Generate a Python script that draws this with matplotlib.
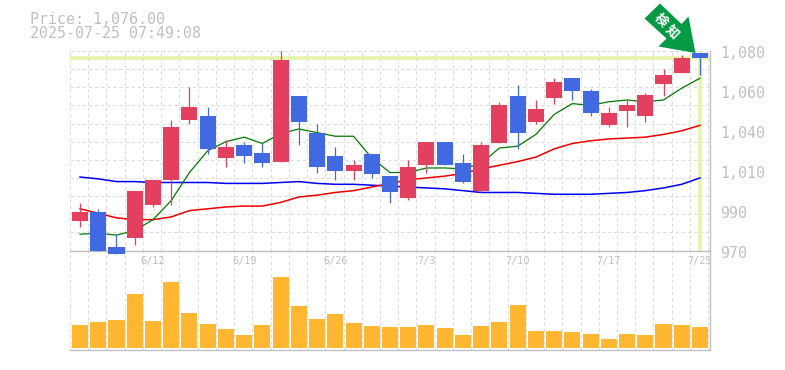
# Velas con medias moviles y volumen

import matplotlib
matplotlib.use("Agg")
import matplotlib.pyplot as plt
from matplotlib.patches import Polygon

Apertura = [986, 991, 972, 977, 995, 1009, 1042, 1044, 1021, 1028, 1024, 1019, 1055, 1035, 1022, 1014, 1023, 1011,
            999, 1017, 1030, 1018, 1003, 1029, 1055, 1041, 1054, 1065, 1058, 1039, 1047, 1044, 1062, 1068, 1079]
Maximo = [996, 993, 979, 1003, 1009, 1042, 1060, 1049, 1031, 1030, 1029, 1080, 1055, 1040, 1027, 1020, 1023, 1011,
          1020, 1030, 1030, 1023, 1030, 1052, 1061, 1053, 1065, 1065, 1059, 1049, 1053, 1057, 1070, 1078, 1079]
Minimo = [983, 970, 968, 973, 994, 995, 1040, 1023, 1016, 1018, 1016, 1019, 1028, 1013, 1009, 1009, 1010, 996,
          998, 1013, 1017, 1007, 1002, 1029, 1026, 1040, 1051, 1053, 1044, 1038, 1038, 1041, 1055, 1068, 1067]
Cierre = [991, 970, 968, 1003, 1009, 1038, 1049, 1026, 1027, 1022, 1018, 1075, 1041, 1016, 1014, 1017, 1012, 1002,
          1016, 1030, 1017, 1008, 1028, 1050, 1035, 1048, 1063, 1058, 1046, 1046, 1050, 1056, 1067, 1076, 1076]

MA_Corta = [979, 979.5, 978.5, 981, 987, 997.5, 1013, 1025, 1030, 1032.5, 1029, 1034.5, 1037, 1035, 1033, 1033,
            1021, 1013, 1013, 1015.5, 1015.5, 1015, 1018, 1026.5, 1027.5, 1034, 1045, 1051, 1050, 1052, 1053, 1052,
            1053, 1059.5, 1065]
MA_Media = [993, 990.5, 988, 987, 987, 988.5, 992, 993, 994, 994.5, 994.5, 996.5, 999.5, 1000.5, 1002, 1003,
            1005, 1007, 1009, 1010, 1011, 1012.5, 1015, 1017, 1019, 1021.5, 1026, 1029, 1030.5, 1031.5, 1032, 1032.5,
            1034, 1036, 1039]
MA_Larga = [1010.5, 1009.5, 1008, 1008, 1007.5, 1007.5, 1007.5, 1007.5, 1007, 1007, 1007, 1007.5, 1008, 1007, 1006.5,
            1006.5, 1006, 1005.5, 1005, 1004.5, 1004, 1003, 1002, 1002, 1002, 1001.5, 1001, 1001, 1001, 1001.5, 1002,
            1003, 1004.5, 1006.5, 1010]

Volumen = [23, 26, 28, 54, 27, 66, 35, 24, 19, 13, 23, 71, 42, 29, 34, 25, 22, 21,
           21, 23, 20, 13, 22, 26, 43, 17, 17, 16, 14, 9, 14, 13, 24, 23, 21]

Fechas = ["6/12", "6/19", "6/26", "7/3", "7/10", "7/17", "7/25"]
Fechas_Pos = [4, 9, 14, 19, 24, 29, 34]
Precios_Ticks = [970, 992, 1014, 1036, 1058, 1080]
Precios_Labels = ["970", "990", "1,010", "1,040", "1,060", "1,080"]
Precio_Actual = 1076

ROJO = "#e3405f"
AZUL = "#4169e1"
NARANJA = "#ffb732"
GRIS = "#c0c0c0"
REJILLA = "#dcdcdc"
AMARILLO = "#e4f5a8"
FUENTE = "DejaVu Sans Mono"
GUION = (0, (3, 2.5))

W, H = 785, 370
fig = plt.figure(figsize=(W / 100, H / 100), dpi=100)
av = fig.add_axes([70 / W, 1 - 350 / H, 640 / W, 99.5 / H])
ax = fig.add_axes([70 / W, 1 - 250.5 / H, 640 / W, 199.5 / H])
ax.patch.set_visible(False)

X = list(range(len(Cierre)))

# Rejilla

for a in (ax, av):
    a.set_xlim(-0.55, 34.55)
    a.set_xticks([i - 0.55 for i in range(36)])
    a.tick_params(length=0, labelbottom=False, labelleft=False)
    a.grid(axis="x", color=REJILLA, lw=0.8, ls=GUION)
    a.set_axisbelow(True)
    for lado in ("top", "left"):
        a.spines[lado].set_visible(False)
    a.spines["right"].set_color(GRIS)
    a.spines["bottom"].set_color(GRIS)
    a.spines["right"].set_linewidth(1)
    a.spines["bottom"].set_linewidth(1)

ax.set_ylim(970, 1080)
ax.set_yticks(range(970, 1081, 10))
ax.grid(axis="y", color=REJILLA, lw=0.8, ls=GUION)
ax.axhline(1080, color=REJILLA, lw=0.8, ls=GUION)

# Precio actual

ax.axhline(Precio_Actual, color=AMARILLO, lw=2.6, zorder=1)
ax.axvline(34, color=AMARILLO, lw=2.6, zorder=1)

# Medias moviles

ax.plot(X, MA_Larga, color="#0000ee", lw=1.1, zorder=2)
ax.plot(X, MA_Media, color="#ee0000", lw=1.1, zorder=2)
ax.plot(X, MA_Corta, color="#007a00", lw=0.9, zorder=2)

# Velas

for i in X:
    color = ROJO if Cierre[i] >= Apertura[i] else AZUL
    ax.vlines(i, Minimo[i], Maximo[i], color=color, lw=0.9, zorder=3, clip_on=False)
    ax.bar(i, abs(Cierre[i] - Apertura[i]), bottom=min(Apertura[i], Cierre[i]), width=0.88,
           color=color, zorder=3, clip_on=False)

# Volumen

av.bar(X, Volumen, width=0.88, color=NARANJA, zorder=3)
av.set_ylim(-2, 97.5)

# Textos

for t, l in zip(Precios_Ticks, Precios_Labels):
    ax.annotate(l, (1, t), xycoords=ax.get_yaxis_transform(), xytext=(10, -2.5), textcoords="offset pixels",
                color=GRIS, fontsize=10.8, family=FUENTE, va="center", ha="left", annotation_clip=False)

for p, f in zip(Fechas_Pos, Fechas):
    ax.annotate(f, (p, 970), xytext=(0, -10), textcoords="offset pixels", color=GRIS, fontsize=7.4,
                family=FUENTE, va="center", ha="center", annotation_clip=False, zorder=6)

fig.text(30 / W, 1 - 19 / H, "Price: 1,076.00", color=GRIS, fontsize=10.8, family=FUENTE, va="center")
fig.text(30 / W, 1 - 34 / H, "2025-07-25 07:49:08", color=GRIS, fontsize=10.8, family=FUENTE, va="center")

# Flecha

Flecha = [(660, 3.5), (681.5, 24), (688.5, 16.5), (695.5, 53), (658.5, 46.5), (666.5, 38.5), (644.5, 18.5)]
fig.add_artist(Polygon([(x / W, 1 - y / H) for x, y in Flecha], closed=True, transform=fig.transFigure,
                       color="#069a45", lw=0, zorder=10))
for x, y, s in [(660.5, 20, "検"), (672.5, 31.5, "知")]:
    fig.text(x / W, 1 - y / H, s, color="white", fontsize=9.5, rotation=-45, rotation_mode="anchor",
             ha="center", va="center", weight="bold", family=["Noto Sans CJK JP", "DejaVu Sans"], zorder=11)

fig.savefig("out.png", dpi=100)
